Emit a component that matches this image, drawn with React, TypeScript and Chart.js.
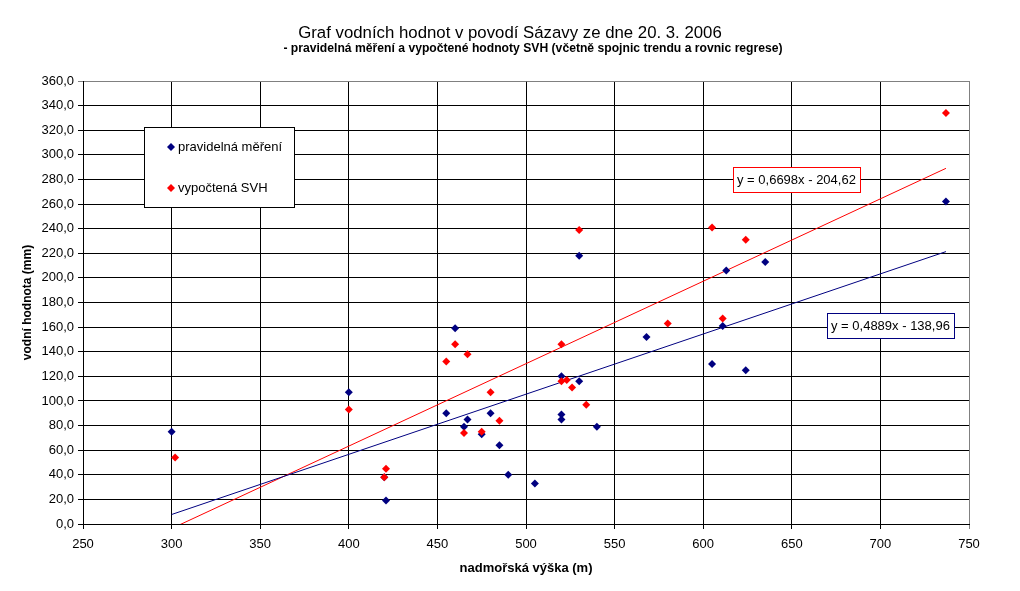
import React, { useEffect, useRef } from "react";
import { Chart, registerables } from "chart.js";

Chart.register(...registerables);

// ---- data ----
const measuredX = [300, 400, 421, 420, 460, 455, 467, 465, 480, 475, 485, 490, 505, 520, 520, 520, 530, 540, 530, 568, 605, 611, 613, 624, 635, 737];
const measuredY = [75, 107, 19, 38, 159, 90, 85, 79, 90, 73, 64, 40, 33, 120, 89, 85, 116, 79, 218, 152, 130, 161, 206, 125, 213, 262];
const computedX = [302, 400, 420, 421, 455, 460, 467, 480, 485, 465, 475, 520, 520, 523, 526, 534, 530, 580, 605, 611, 624, 737];
const computedY = [54, 93, 38, 45, 132, 146, 138, 107, 84, 74, 75, 146, 116, 117, 111, 97, 239, 163, 241, 167, 231, 334];

const trendMeasured = [0.4889, -138.96]; // slope, intercept
const trendComputed = [0.6698, -204.62];

const seriesLabels = ["pravidelná měření", "vypočtená SVH"];
const equationLabels = ["y = 0,4889x - 138,96", "y = 0,6698x - 204,62"];
const titleText = "Graf vodních hodnot v povodí Sázavy ze dne 20. 3. 2006";
const subtitleText = "- pravidelná měření a vypočtené hodnoty SVH (včetně spojnic trendu a rovnic regrese)";
const xAxisTitle = "nadmořská výška (m)";
const yAxisTitle = "vodní hodnota (mm)";
const xRange = [250, 750];
const xStep = 50;
const yRange = [0, 360];
const yStep = 20;

const BLUE = "#000080";
const RED = "#FF0000";
const FAMILY = '"Liberation Sans", Arial, sans-serif';

function points(xs: number[], ys: number[]) {
  return xs.map((x, i) => ({ x, y: ys[i] }));
}
function trend(xs: number[], coef: number[]) {
  const lo = Math.min(...xs);
  const hi = Math.max(...xs);
  return [
    { x: lo, y: coef[0] * lo + coef[1] },
    { x: hi, y: coef[0] * hi + coef[1] },
  ];
}

function fitFont(ctx: CanvasRenderingContext2D, text: string, weight: string, target: number) {
  ctx.font = `${weight} 100px ${FAMILY}`;
  const w = ctx.measureText(text).width;
  const size = (100 * target) / w;
  ctx.font = `${weight} ${size}px ${FAMILY}`;
}

function diamond(ctx: CanvasRenderingContext2D, x: number, y: number, r: number, color: string) {
  ctx.beginPath();
  ctx.moveTo(x, y - r);
  ctx.lineTo(x + r, y);
  ctx.lineTo(x, y + r);
  ctx.lineTo(x - r, y);
  ctx.closePath();
  ctx.fillStyle = color;
  ctx.fill();
}

const decorPlugin = {
  id: "decor",
  afterDraw(chart: any) {
    const ctx: CanvasRenderingContext2D = chart.ctx;
    ctx.save();
    // titles
    ctx.fillStyle = "#000";
    ctx.textAlign = "center";
    ctx.textBaseline = "middle";
    fitFont(ctx, titleText, "normal", 424);
    ctx.fillText(titleText, 510, 33);
    fitFont(ctx, subtitleText, "bold", 500);
    ctx.fillText(subtitleText, 533, 49);

    // legend
    ctx.fillStyle = "#fff";
    ctx.fillRect(144.5, 127.5, 150, 80);
    ctx.strokeStyle = "#000";
    ctx.lineWidth = 1;
    ctx.strokeRect(144.5, 127.5, 150, 80);
    const ds = chart.data.datasets;
    const legendRows = [147, 188];
    ctx.font = `13px ${FAMILY}`;
    ctx.textAlign = "left";
    for (let i = 0; i < 2; i++) {
      diamond(ctx, 171, legendRows[i], 4, ds[i].backgroundColor);
      ctx.fillStyle = "#000";
      ctx.fillText(ds[i].label, 178, legendRows[i]);
    }

    // equation boxes
    const boxes = [
      { text: equationLabels[0], left: 827, top: 313, color: BLUE },
      { text: equationLabels[1], left: 733, top: 167, color: RED },
    ];
    for (const b of boxes) {
      ctx.font = `13px ${FAMILY}`;
      const w = Math.round(ctx.measureText(b.text).width + 8);
      ctx.fillStyle = "#fff";
      ctx.fillRect(b.left + 0.5, b.top + 0.5, w, 25);
      ctx.strokeStyle = b.color;
      ctx.strokeRect(b.left + 0.5, b.top + 0.5, w, 25);
      ctx.fillStyle = "#000";
      ctx.fillText(b.text, b.left + 4, b.top + 13);
    }
    ctx.restore();
  },
};

export default function App() {
  const ref = useRef<HTMLCanvasElement | null>(null);
  useEffect(() => {
    document.body.style.margin = "0";
    if (!ref.current) return;
    Chart.defaults.font.family = FAMILY;
    Chart.defaults.color = "#000";
    const chart = new Chart(ref.current, {
      type: "scatter",
      data: {
        datasets: [
          {
            label: seriesLabels[0],
            data: points(measuredX, measuredY),
            backgroundColor: BLUE,
            borderColor: BLUE,
            pointStyle: "rectRot",
            pointRadius: 4,
            borderWidth: 0,
            order: 1,
          },
          {
            label: seriesLabels[1],
            data: points(computedX, computedY),
            backgroundColor: RED,
            borderColor: RED,
            pointStyle: "rectRot",
            pointRadius: 4,
            borderWidth: 0,
            order: 0,
          },
          {
            type: "line",
            label: "trend1",
            data: trend(measuredX, trendMeasured),
            borderColor: BLUE,
            backgroundColor: BLUE,
            borderWidth: 1,
            pointRadius: 0,
            showLine: true,
            order: 2,
          },
          {
            type: "line",
            label: "trend2",
            data: trend(computedX, trendComputed),
            borderColor: RED,
            backgroundColor: RED,
            borderWidth: 1,
            pointRadius: 0,
            showLine: true,
            order: 2,
          },
        ] as any,
      },
      options: {
        responsive: false,
        animation: false,
        devicePixelRatio: 1,
        layout: { padding: { top: 81, right: 51, left: 0, bottom: 0 } },
        plugins: {
          legend: { display: false },
          tooltip: { enabled: false },
          title: { display: false },
        },
        scales: {
          x: {
            type: "linear",
            min: xRange[0],
            max: xRange[1],
            afterFit: (s: any) => {
              s.height = 67;
            },
            ticks: {
              stepSize: xStep,
              padding: 8,
              font: { size: 13 },
              color: "#000",
            },
            grid: {
              color: (c: any) => (c.tick && c.tick.value === xRange[1] ? "#808080" : "#000"),
              tickLength: 5,
              lineWidth: 1,
            },
            border: { display: true, color: "#000", width: 1 },
            title: {
              display: true,
              text: xAxisTitle,
              font: { size: 13, weight: "bold" },
              color: "#000",
              padding: { top: 0, bottom: 15 },
            },
          },
          y: {
            type: "linear",
            min: yRange[0],
            max: yRange[1],
            afterFit: (s: any) => {
              s.width = 83;
            },
            ticks: {
              stepSize: yStep,
              padding: 4,
              font: { size: 13 },
              color: "#000",
              callback: (v: any) => Number(v).toFixed(1).replace(".", ","),
            },
            grid: {
              color: (c: any) => (c.tick && c.tick.value === yRange[1] ? "#808080" : "#000"),
              tickLength: 5,
              lineWidth: 1,
            },
            border: { display: true, color: "#000", width: 1 },
            title: {
              display: true,
              text: yAxisTitle,
              font: { size: 12, weight: "bold" },
              color: "#000",
              padding: { top: 20, bottom: 0 },
            },
          },
        },
      } as any,
      plugins: [decorPlugin],
    });
    return () => chart.destroy();
  }, []);
  return (
    <div style={{ width: 1020, height: 591, background: "#fff" }}>
      <canvas ref={ref} width={1020} height={591} style={{ display: "block" }} />
    </div>
  );
}
